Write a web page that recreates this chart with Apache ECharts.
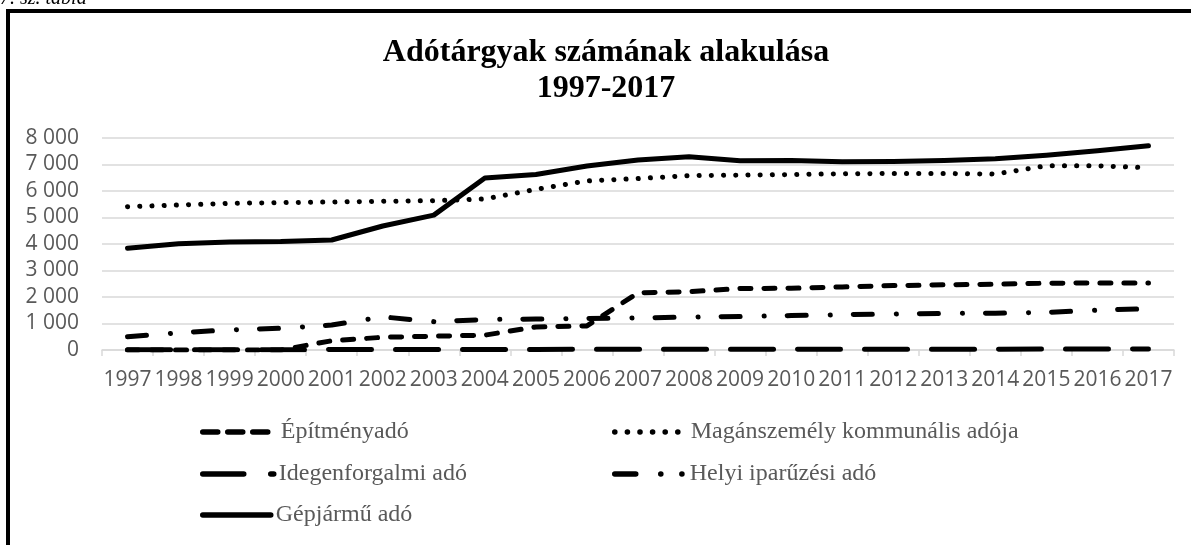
<!DOCTYPE html>
<html>
<head>
<meta charset="utf-8">
<script src="https://cdn.jsdelivr.net/npm/echarts@6/dist/echarts.min.js"></script>
<style>
  html, body { margin: 0; padding: 0; background: #fff; }
  #chart { width: 1191px; height: 545px; }
</style>
</head>
<body>
<div id="chart"></div>
<script>
const years = ['1997', '1998', '1999', '2000', '2001', '2002', '2003', '2004', '2005', '2006', '2007',
    '2008', '2009', '2010', '2011', '2012', '2013', '2014', '2015', '2016', '2017'];

const epitmeny = [0, 0, 0, 0, 350, 480, 520, 560, 870, 910, 2160, 2200, 2320, 2330, 2380, 2430, 2460, 2480, 2520, 2530, 2530];
const magan = [5410, 5470, 5535, 5560, 5585, 5610, 5635, 5700, 6060, 6380, 6470, 6580, 6600, 6620, 6650, 6660, 6660, 6640, 6950, 6950, 6880];
const idegen = [10, 10, 10, 10, 15, 20, 20, 20, 20, 25, 25, 25, 25, 25, 30, 30, 30, 30, 35, 35, 40];
const helyi = [500, 650, 760, 820, 940, 1250, 1070, 1150, 1170, 1190, 1210, 1240, 1260, 1300, 1330, 1360, 1380, 1390, 1420, 1500, 1560];
const gepjarmu = [3840, 4010, 4080, 4090, 4150, 4680, 5090, 6490, 6620, 6940, 7170, 7290, 7145, 7150, 7100, 7110, 7150, 7220, 7350, 7520, 7710];

const serifFont = '"Liberation Serif", "Times New Roman", serif';
const axisFont = '"Open Sans", "Noto Sans", sans-serif';

function fmt(v) {
    return String(v).replace(/\B(?=(\d{3})+(?!\d))/g, ' ');
}

function line(name, data, type) {
    return {
        name: name,
        type: 'line',
        data: data,
        symbol: 'none',
        itemStyle: { color: '#000' },
        lineStyle: { color: '#000', width: 5, type: type, cap: 'round', join: 'round' },
        emphasis: { disabled: true }
    };
}

function legendItem(name, left, top, width, type) {
    return {
        data: [{
            name: name,
            itemStyle: { opacity: 0 },
            lineStyle: { color: '#000', width: 5.5, type: type, cap: 'round' }
        }],
        left: left,
        top: top,
        itemWidth: width,
        itemHeight: 14,
        padding: 0,
        selectedMode: false,
        textStyle: { color: '#595959', fontFamily: serifFont, fontSize: 24 }
    };
}

const chart = echarts.init(document.getElementById('chart'));
chart.setOption({
    animation: false,
    graphic: [
        { type: 'text', x: 0, y: 9, style: { text: '7. sz. tábla', fontFamily: serifFont, fontStyle: 'italic', fontSize: 20, fill: '#000', verticalAlign: 'bottom' } },
        { type: 'line', shape: { x1: 6, y1: 11, x2: 1191, y2: 11 }, style: { stroke: '#000', lineWidth: 4 } },
        { type: 'line', shape: { x1: 8, y1: 9, x2: 8, y2: 545 }, style: { stroke: '#000', lineWidth: 4 } },
        { type: 'text', x: 606, y: 53, style: { text: 'Adótárgyak számának alakulása', fontFamily: serifFont, fontWeight: 'bold', fontSize: 32, fill: '#000', align: 'center', verticalAlign: 'middle' } },
        { type: 'text', x: 606, y: 89, style: { text: '1997-2017', fontFamily: serifFont, fontWeight: 'bold', fontSize: 32, fill: '#000', align: 'center', verticalAlign: 'middle' } }
    ],
    legend: [
        legendItem('Építményadó', 200, 420, 73, [15, 10]),
        legendItem('Magánszemély kommunális adója', 612, 420, 71, [0.1, 12.5]),
        legendItem('Idegenforgalmi adó', 200, 462, 71, [41, 27]),
        legendItem('Helyi iparűzési adó', 612, 462, 70, [21, 25, 0.1, 21, 0.1, 20]),
        legendItem('Gépjármű adó', 200, 503, 68, 'solid')
    ],
    grid: { left: 102, right: 17, top: 138, bottom: 195 },
    xAxis: {
        type: 'category',
        data: years,
        boundaryGap: true,
        axisLine: { lineStyle: { color: '#d9d9d9', width: 1.5 } },
        axisTick: { show: true, length: 6, lineStyle: { color: '#d9d9d9', width: 1.5 } },
        axisLabel: { interval: 0, margin: 20, color: '#595959', fontFamily: axisFont, fontSize: 21 }
    },
    yAxis: {
        type: 'value',
        min: 0,
        max: 8000,
        interval: 1000,
        axisLine: { show: false },
        axisTick: { show: false },
        splitLine: { lineStyle: { color: '#d9d9d9', width: 1.5 } },
        axisLabel: { margin: 23, color: '#595959', fontFamily: axisFont, fontSize: 21, formatter: fmt }
    },
    series: [
        line('Építményadó', epitmeny, [11, 13]),
        line('Magánszemély kommunális adója', magan, [0.1, 12.1]),
        line('Idegenforgalmi adó', idegen, [43, 24]),
        line('Helyi iparűzési adó', helyi, [19, 24, 0.1, 23]),
        line('Gépjármű adó', gepjarmu, 'solid')
    ]
});
</script>
</body>
</html>
